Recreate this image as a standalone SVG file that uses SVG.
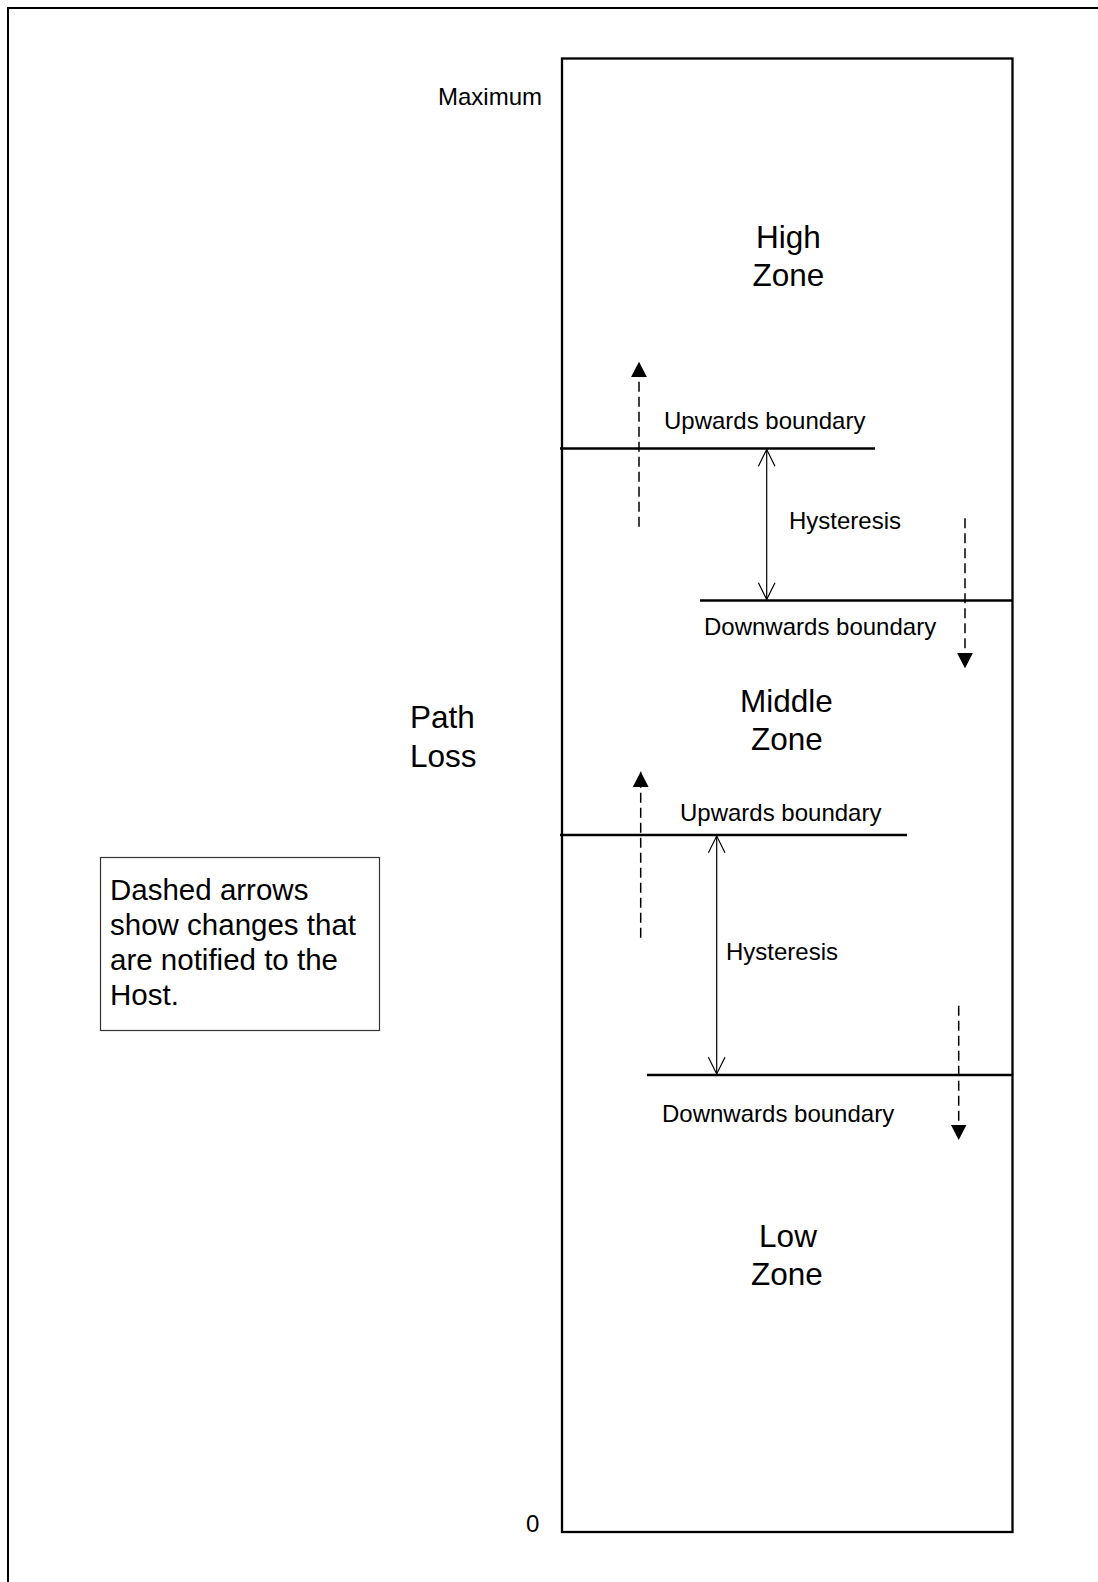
<svg xmlns="http://www.w3.org/2000/svg" width="1098" height="1582" viewBox="0 0 1098 1582">
<style>
.t{font-family:"Liberation Sans",Arial,sans-serif;fill:#000}
.s{font-size:24px}
.l{font-size:31.5px}
.n{font-size:29.5px}
.c{text-anchor:middle}
.bound{stroke:#000;stroke-width:2.3;fill:none}
.hys{stroke:#000;stroke-width:1.2;fill:none;marker-start:url(#vopen);marker-end:url(#vopen)}
.dash{stroke:#000;stroke-width:1.5;fill:none;stroke-dasharray:10 5;marker-end:url(#tri)}
</style>
<defs>
<marker id="tri" markerUnits="userSpaceOnUse" viewBox="0 0 15.5 16" markerWidth="15.5" markerHeight="16" refX="15.5" refY="8" orient="auto">
<path d="M0,0 L15.5,8 L0,16 Z" fill="#000"/>
</marker>
<marker id="vopen" markerUnits="userSpaceOnUse" viewBox="-1 -1 19 19" markerWidth="19" markerHeight="19" refX="16.7" refY="8.3" orient="auto-start-reverse" overflow="visible">
<path d="M0,0 L16.7,8.3 L0,16.6" fill="none" stroke="#000" stroke-width="1.2"/>
</marker>
</defs>
<rect width="1098" height="1582" fill="#fff"/>
<g id="frame">
<rect x="8" y="8" width="1200" height="1700" fill="none" stroke="#000" stroke-width="2"/>
</g>
<g id="scale">
<rect x="562" y="58.5" width="450.5" height="1473.5" fill="none" stroke="#000" stroke-width="2.3"/>
<text class="t s" x="438" y="105">Maximum</text>
<text class="t s" x="526" y="1532">0</text>
</g>
<g id="path-loss">
<text class="t l" x="410" y="728">Path</text>
<text class="t l" x="410" y="767">Loss</text>
</g>
<g id="high-zone">
<text class="t l c" x="788.5" y="248">High</text>
<text class="t l c" x="788.5" y="286">Zone</text>
</g>
<g id="middle-zone">
<text class="t l c" x="786.5" y="712">Middle</text>
<text class="t l c" x="787" y="750">Zone</text>
</g>
<g id="low-zone">
<text class="t l c" x="788" y="1247">Low</text>
<text class="t l c" x="787" y="1285">Zone</text>
</g>
<g id="upper-boundaries">
<line class="bound" x1="560" y1="448.5" x2="875" y2="448.5"/>
<text class="t s" x="664" y="429">Upwards boundary</text>
<line class="bound" x1="700" y1="600.5" x2="1012" y2="600.5"/>
<text class="t s" x="704" y="635">Downwards boundary</text>
<text class="t s" x="789" y="529">Hysteresis</text>
</g>
<g id="lower-boundaries">
<line class="bound" x1="560" y1="835" x2="907" y2="835"/>
<text class="t s" x="680" y="821">Upwards boundary</text>
<line class="bound" x1="647" y1="1075" x2="1012" y2="1075"/>
<text class="t s" x="662" y="1122">Downwards boundary</text>
<text class="t s" x="726" y="960">Hysteresis</text>
</g>
<g id="note">
<rect x="100.5" y="857.5" width="279" height="173" fill="none" stroke="#333" stroke-width="1.2"/>
<text class="t n" x="110" y="900">Dashed arrows</text>
<text class="t n" x="110" y="935">show changes that</text>
<text class="t n" x="110" y="970">are notified to the</text>
<text class="t n" x="110" y="1005">Host.</text>
</g>
<g id="connectors">
<line class="hys" x1="766.7" y1="449.5" x2="766.7" y2="599.5"/>
<line class="hys" x1="716.7" y1="836" x2="716.7" y2="1074"/>
<line class="dash" x1="639" y1="526.7" x2="639" y2="361.7"/>
<line class="dash" x1="965" y1="518.3" x2="965" y2="668.3"/>
<line class="dash" x1="640.7" y1="937.7" x2="640.7" y2="771.7"/>
<line class="dash" x1="958.7" y1="1005.7" x2="958.7" y2="1140"/>
</g>
</svg>
